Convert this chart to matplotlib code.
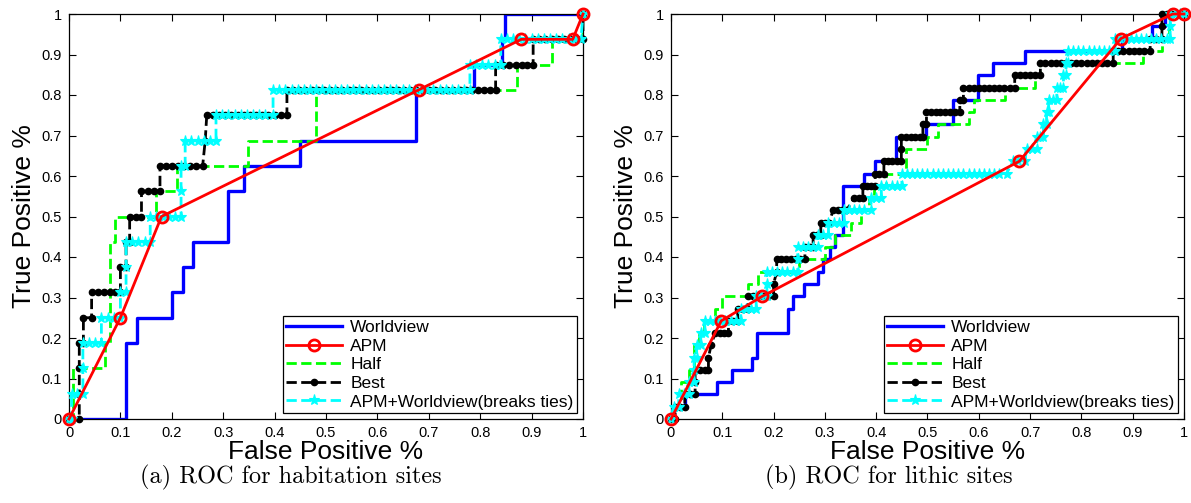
import numpy as np
import matplotlib
matplotlib.use('Agg')
import matplotlib.pyplot as plt

plt.rcParams['font.family'] = ['Liberation Sans', 'DejaVu Sans']

ticks = [0, 0.1, 0.2, 0.3, 0.4, 0.5, 0.6, 0.7, 0.8, 0.9, 1]
tick_labels = ['0', '0.1', '0.2', '0.3', '0.4', '0.5', '0.6', '0.7', '0.8', '0.9', '1']
names = ['Worldview', 'APM', 'Half', 'Best', 'APM+Worldview(breaks ties)']
captions = ['(a) ROC for habitation sites', '(b) ROC for lithic sites']

# ---------------- (a) habitation sites, 16 positives ----------------
wv_a_x = [0, 0.11, 0.132, 0.2, 0.221, 0.242, 0.31, 0.34, 0.45, 0.675, 0.787, 0.842, 0.848, 1.0]
wv_a_y = [0, 0.1875, 0.25, 0.3125, 0.375, 0.4375, 0.5625, 0.625, 0.6875, 0.8125, 0.875, 0.9375, 1.0, 1.0]

apm_a_x = [0, 0.1, 0.18, 0.68, 0.88, 0.98, 1.0]
apm_a_y = [0, 0.25, 0.5, 0.8125, 0.9375, 0.9375, 1.0]

half_a_x = [0, 0.008, 0.07, 0.08, 0.09, 0.17, 0.211, 0.349, 0.48, 0.871, 0.939, 1.0, 1.0]
half_a_y = [0, 0.125, 0.1875, 0.4375, 0.5, 0.5625, 0.625, 0.6875, 0.8125, 0.875, 0.9375, 1.0, 1.0]

# dots of each curve, grouped by TP level
best_a_lv = [0, 0.0625, 0.125, 0.1875, 0.25, 0.3125, 0.375, 0.4375, 0.5, 0.5625,
             0.625, 0.6875, 0.75, 0.8125, 0.875, 0.9375, 1.0]
best_a_xs = [[0, 0.02], [0.02], [0.02], [0.02, 0.028], [0.028, 0.044],
             [0.044, 0.056, 0.068, 0.08, 0.09, 0.1], [0.1, 0.111], [0.111, 0.118],
             [0.118, 0.13, 0.141], [0.141, 0.153, 0.165, 0.177],
             [0.177, 0.189, 0.2, 0.212, 0.224, 0.236, 0.248, 0.26], [0.265],
             [0.268, 0.28, 0.292, 0.304, 0.316, 0.328, 0.34, 0.352, 0.364, 0.376, 0.388,
              0.4, 0.412, 0.424],
             [0.424, 0.436, 0.448, 0.46, 0.472, 0.484, 0.496, 0.508, 0.52, 0.532, 0.544,
              0.556, 0.568, 0.58, 0.592, 0.604, 0.616, 0.628, 0.64, 0.652, 0.664, 0.676,
              0.688, 0.7, 0.712, 0.724, 0.736, 0.748, 0.76, 0.772, 0.784, 0.796, 0.808,
              0.82, 0.83],
             [0.83, 0.845, 0.857, 0.869, 0.881, 0.892, 0.903],
             [0.903, 0.915, 0.927, 0.939, 0.951, 0.963, 0.975, 0.988, 1.0], [1.0]]

mix_a_lv = [0, 0.0625, 0.125, 0.1875, 0.25, 0.3125, 0.375, 0.4375, 0.5, 0.5625,
            0.625, 0.6875, 0.75, 0.8125, 0.875, 0.9375, 1.0]
mix_a_xs = [[0, 0.005], [0.005, 0.015, 0.027], [0.027], [0.027, 0.039, 0.051, 0.063],
            [0.063, 0.075, 0.087, 0.1], [0.1, 0.111], [0.111],
            [0.111, 0.123, 0.135, 0.147, 0.158], [0.158, 0.17, 0.182, 0.194, 0.206, 0.218],
            [0.218], [0.218, 0.226], [0.226, 0.238, 0.25, 0.262, 0.274, 0.286],
            [0.286, 0.298, 0.31, 0.322, 0.334, 0.346, 0.358, 0.37, 0.382, 0.397],
            [0.397, 0.409, 0.421, 0.433, 0.445, 0.457, 0.469, 0.481, 0.493, 0.505, 0.517,
             0.529, 0.541, 0.553, 0.565, 0.577, 0.589, 0.601, 0.613, 0.625, 0.637, 0.649,
             0.661, 0.673, 0.685, 0.697, 0.709, 0.721, 0.733, 0.745, 0.757, 0.769, 0.78],
            [0.78, 0.792, 0.804, 0.816, 0.828, 0.84],
            [0.84, 0.852, 0.864, 0.876, 0.888, 0.9, 0.912, 0.924, 0.936, 0.948, 0.96, 0.972,
             0.984, 0.996], [1.0]]

# ---------------- (b) lithic sites, 33 positives ----------------
wv_b_x = [0, 0.005, 0.027, 0.09, 0.118, 0.157, 0.167, 0.229, 0.237, 0.259, 0.287, 0.297,
          0.31, 0.32, 0.335, 0.376, 0.398, 0.439, 0.497, 0.549, 0.599, 0.628, 0.69, 0.879,
          0.937, 0.963, 1.0]
wv_b_k = [0, 1, 2, 3, 4, 5, 7, 9, 10, 11, 12, 13, 14, 15, 19, 20, 21, 23, 24, 26, 28, 29,
          30, 31, 32, 33, 33]

apm_b_x = [0, 0.098, 0.178, 0.679, 0.877, 0.978, 1.0]
apm_b_y = [0, 0.2424, 0.303, 0.6364, 0.9394, 1.0, 1.0]

half_b_x = [0, 0.005, 0.02, 0.035, 0.045, 0.055, 0.065, 0.085, 0.099, 0.15, 0.17, 0.25,
            0.3, 0.32, 0.35, 0.37, 0.385, 0.396, 0.42, 0.458, 0.5, 0.521, 0.58, 0.59,
            0.651, 0.709, 0.72, 0.92, 0.957, 0.97, 1.0]
half_b_k = [0, 1, 3, 4, 6, 7, 8, 9, 10, 11, 12, 13, 14, 15, 16, 17, 18, 19, 20, 22, 23,
            24, 25, 26, 27, 28, 29, 30, 31, 33, 33]

best_b_xs = [[0, 0.008], [0.008, 0.018, 0.027], [0.027, 0.037, 0.047], [0.047],
             [0.047, 0.057, 0.067, 0.073], [0.073], [0.078], [0.086, 0.095, 0.104, 0.112],
             [0.112, 0.121, 0.13], [0.13, 0.14, 0.15], [0.15, 0.16, 0.17, 0.18, 0.19, 0.2],
             [0.2], [0.206], [0.206, 0.215, 0.224, 0.233, 0.243, 0.252, 0.261],
             [0.261, 0.27, 0.277], [0.277, 0.285, 0.292], [0.292, 0.3, 0.308],
             [0.316, 0.325, 0.334, 0.342], [0.357, 0.366, 0.374],
             [0.374, 0.382, 0.39, 0.398], [0.398, 0.406, 0.415],
             [0.415, 0.423, 0.431, 0.44, 0.449], [0.449],
             [0.449, 0.458, 0.467, 0.476, 0.485, 0.491], [0.491, 0.498],
             [0.498, 0.507, 0.516, 0.525, 0.535, 0.544, 0.553, 0.563], [0.563, 0.57],
             [0.57, 0.58, 0.59, 0.6, 0.61, 0.62, 0.63, 0.64, 0.65, 0.66, 0.67],
             [0.67, 0.68, 0.69, 0.7, 0.71, 0.72],
             [0.72, 0.73, 0.74, 0.75, 0.76, 0.77, 0.78, 0.79, 0.8, 0.81, 0.82, 0.83, 0.84,
              0.85, 0.862],
             [0.862, 0.872, 0.882, 0.892, 0.902, 0.912, 0.922, 0.934],
             [0.934, 0.945, 0.957], [0.957], [0.957, 0.967, 0.977, 0.988, 1.0]]

mix_b_xs = [[0], [0.005, 0.015], [0.015, 0.025, 0.035], [0.035, 0.045], [0.045],
            [0.045, 0.05], [0.05, 0.058], [0.058, 0.066],
            [0.066, 0.076, 0.086, 0.096, 0.106, 0.116, 0.126, 0.136],
            [0.136, 0.146, 0.156, 0.166], [0.166, 0.176, 0.187], [0.187],
            [0.187, 0.197, 0.207, 0.217, 0.227, 0.237, 0.247], [0.247],
            [0.247, 0.257, 0.267, 0.277, 0.287], [0.287, 0.297, 0.307],
            [0.307, 0.317, 0.327, 0.337], [0.337, 0.347, 0.357, 0.367, 0.377, 0.39],
            [0.39, 0.4, 0.41], [0.41, 0.42, 0.43, 0.44, 0.45],
            [0.45, 0.46, 0.47, 0.48, 0.49, 0.5, 0.51, 0.52, 0.53, 0.54, 0.55, 0.56, 0.57,
             0.58, 0.59, 0.6, 0.61, 0.62, 0.63, 0.64, 0.654],
            [0.667, 0.677, 0.69], [0.693, 0.703, 0.713], [0.713, 0.72, 0.726],
            [0.726, 0.732], [0.732, 0.736], [0.736, 0.745, 0.752], [0.752, 0.758, 0.765],
            [0.765, 0.77], [0.77, 0.774],
            [0.774, 0.784, 0.794, 0.804, 0.814, 0.824, 0.834, 0.844, 0.854, 0.866],
            [0.866, 0.876, 0.886, 0.896, 0.906, 0.916, 0.926, 0.936, 0.946, 0.956, 0.966,
             0.973], [0.973], [0.973, 0.983, 0.993, 1.0]]


def unroll(levels, xs):
    px, py = [], []
    for lv, row in zip(levels, xs):
        for v in row:
            px.append(v)
            py.append(lv)
    return px, py


def draw(ax, wv, apm, half, best, mix, caption, xc):
    ax.plot(wv[0], wv[1], color='#0000ff', lw=2.4, drawstyle='steps-post', zorder=2,
            label=names[0])
    ax.plot(apm[0], apm[1], color='#ff0000', lw=2.0, marker='o', ms=8, mfc='none',
            mew=2.0, zorder=6, clip_on=False, label=names[1])
    ax.plot(half[0], half[1], color='#00ff00', lw=2.0, ls='--', drawstyle='steps-post',
            zorder=3, label=names[2])
    ax.plot(best[0], best[1], color='k', lw=2.0, ls='--', marker='o', ms=4.5,
            zorder=4, clip_on=False, label=names[3])
    ax.plot(mix[0], mix[1], color='#00ffff', lw=2.0, ls='--', marker='*', ms=8,
            mew=0.8, zorder=5, clip_on=False, label=names[4])
    ax.set_xlim(0, 1)
    ax.set_ylim(0, 1)
    ax.set_xticks(ticks)
    ax.set_xticklabels(tick_labels)
    ax.set_yticks(ticks)
    ax.set_yticklabels(tick_labels)
    ax.tick_params(direction='in', top=True, right=True, length=5, labelsize=10.5,
                   width=0.8, pad=5)
    for s in ax.spines.values():
        s.set_linewidth(0.9)
    ax.set_xlabel('False Positive %', fontsize=19, labelpad=0)
    ax.set_ylabel('True Positive %', fontsize=19, labelpad=4)
    leg = ax.legend(loc='lower right', bbox_to_anchor=(1 - 6 / 514, 6 / 405),
                    borderaxespad=0, fancybox=False, framealpha=1, edgecolor='k',
                    fontsize=12.5, handlelength=3.2, labelspacing=0.2, borderpad=0.2,
                    handletextpad=0.5)
    leg.get_frame().set_linewidth(0.9)
    leg.set_zorder(10)
    fig.text(xc, 0.05, caption, fontsize=17.5, family='cmr10', ha='center', va='center')


fig = plt.figure(figsize=(11.91, 5.03), dpi=100)
ax1 = fig.add_axes([69 / 1191, 84 / 503, 514 / 1191, 405 / 503])
ax2 = fig.add_axes([671 / 1191, 84 / 503, 513 / 1191, 405 / 503])

draw(ax1, (wv_a_x, wv_a_y), (apm_a_x, apm_a_y), (half_a_x, half_a_y),
     unroll(best_a_lv, best_a_xs), unroll(mix_a_lv, mix_a_xs), captions[0], 0.244)

lv33 = [k / 33 for k in range(34)]
draw(ax2, (wv_b_x, [k / 33 for k in wv_b_k]), (apm_b_x, apm_b_y),
     (half_b_x, [k / 33 for k in half_b_k]),
     unroll(lv33, best_b_xs), unroll(lv33, mix_b_xs), captions[1], 0.746)

fig.savefig('out.png', dpi=100)
